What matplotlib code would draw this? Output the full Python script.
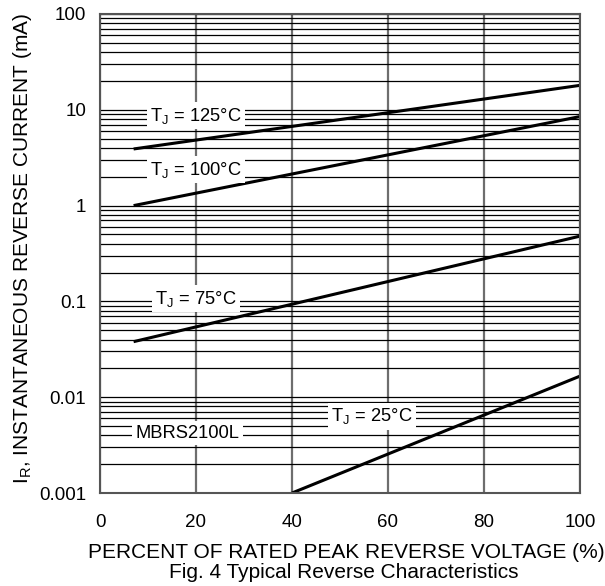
import matplotlib
matplotlib.use('Agg')
import matplotlib.pyplot as plt
import numpy as np

plt.rcParams['font.family'] = ['Liberation Sans', 'DejaVu Sans']
plt.rcParams['mathtext.fontset'] = 'custom'
plt.rcParams['mathtext.rm'] = 'Liberation Sans'

# curve end points (percent, mA)
v_125 = [7, 100]
i_125 = [3.9, 18.0]
v_100 = [7, 100]
i_100 = [1.0, 8.5]
v_75 = [7, 100]
i_75 = [0.038, 0.48]
v_25 = [40, 100]
i_25 = [0.001, 0.0166]

curve_labels = [r'T$_\mathregular{J}$ = 125°C', r'T$_\mathregular{J}$ = 100°C',
                r'T$_\mathregular{J}$ = 75°C', r'T$_\mathregular{J}$ = 25°C']
label_x = [20, 20, 20, 56.7]
label_y = [8.65, 2.37, 0.107, 0.0063]

x_ticks = [0, 20, 40, 60, 80, 100]
y_ticks = [0.001, 0.01, 0.1, 1, 10, 100]
y_ticklabels = ['0.001', '0.01', '0.1', '1', '10', '100']

fig = plt.figure(figsize=(6.05, 5.86), dpi=100)
ax = fig.add_axes([100/605, 1-493/586, 480/605, 479/586])

ax.set_yscale('log')
ax.set_xlim(0, 100)
ax.set_ylim(0.001, 100)

# horizontal grid: every minor step of each decade
ax.set_yticks(y_ticks)
ax.set_yticklabels(y_ticklabels)
ax.yaxis.set_minor_locator(matplotlib.ticker.LogLocator(base=10, subs=np.arange(2, 10)))
ax.yaxis.set_minor_formatter(matplotlib.ticker.NullFormatter())
ax.grid(True, which='both', axis='y', color='black', lw=0.9)
ax.set_xticks(x_ticks)
ax.grid(True, which='major', axis='x', color='#6e6e6e', lw=1.6)
ax.set_axisbelow(True)
ax.tick_params(which='both', length=0, labelsize=13.5)
ax.tick_params(axis='x', pad=15)
ax.tick_params(axis='y', pad=10)

for s in ax.spines.values():
    s.set_color('#555555')
    s.set_linewidth(1.5)

for v, i in [(v_125, i_125), (v_100, i_100), (v_75, i_75), (v_25, i_25)]:
    ax.plot(v, i, color='black', lw=2.2, solid_capstyle='butt')

box = dict(facecolor='white', edgecolor='none', pad=2.5)
for t, x, y in zip(curve_labels, label_x, label_y):
    ax.text(x, y, t, ha='center', va='center', fontsize=13.2, bbox=box, zorder=3)
ax.text(18.2, 0.0042, 'MBRS2100L', ha='center', va='center', fontsize=13.2,
        bbox=box, zorder=3)

ax.set_xlabel('PERCENT OF RATED PEAK REVERSE VOLTAGE (%)', fontsize=15, va='center')
ax.xaxis.set_label_coords((346-100)/480, (493-552)/479)
ax.set_ylabel(r'I$_\mathregular{R}$, INSTANTANEOUS REVERSE CURRENT (mA)', fontsize=15,
              va='center')
ax.yaxis.set_label_coords((23-100)/480, 0.51)
fig.text(344/605, 1-573/586, 'Fig. 4 Typical Reverse Characteristics', ha='center',
         va='center', fontsize=15)

fig.savefig('out.png', dpi=100)
